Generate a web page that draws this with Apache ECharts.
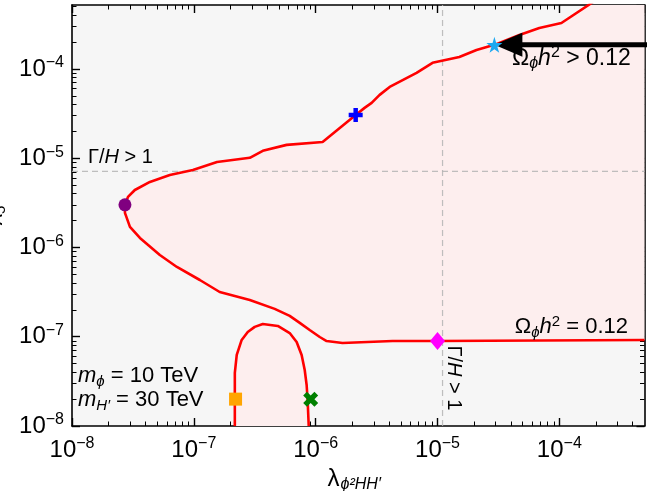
<!DOCTYPE html>
<html>
<head>
<meta charset="utf-8">
<script src="https://cdn.jsdelivr.net/npm/echarts@6/dist/echarts.min.js"></script>
<style>
  html, body { margin: 0; padding: 0; background: #fff; }
  #chart { width: 647px; height: 491px; }
</style>
</head>
<body>
<div id="chart"></div>
<script>
// Axis ranges (both axes logarithmic)
const X_MIN = 1e-8, X_MAX = 5e-4;
const Y_MIN = 1e-8, Y_MAX = 5.2e-4;

// Omega h^2 = 0.12 contour, main branch (top edge -> turning point -> flat tail)
const relicX = [
  1.90e-4, 1.04e-4, 6.85e-5, 4.70e-5, 2.93e-5, 2.09e-5, 1.51e-5, 9.10e-6, 6.73e-6, 4.05e-6,
  3.35e-6, 2.88e-6, 2.52e-6, 2.13e-6, 1.14e-6, 5.78e-7, 3.68e-7, 2.88e-7, 1.55e-7, 9.82e-8,
  6.35e-8, 4.36e-8, 3.28e-8, 2.88e-8, 2.72e-8, 2.72e-8, 2.99e-8, 3.61e-8, 5.26e-8, 7.26e-8,
  1.12e-7, 1.63e-7, 2.88e-7, 4.61e-7, 6.12e-7, 7.40e-7, 8.93e-7, 1.08e-6, 1.23e-6, 1.66e-6,
  4.28e-6, 1.00e-5, 5.00e-4
];
const relicY = [
  5.64e-4, 3.27e-4, 2.88e-4, 2.40e-4, 1.86e-4, 1.63e-4, 1.36e-4, 1.17e-4, 9.02e-5, 6.28e-5,
  5.12e-5, 4.16e-5, 3.66e-5, 3.05e-5, 1.52e-5, 1.41e-5, 1.21e-5, 1.01e-5, 9.08e-6, 7.38e-6,
  6.49e-6, 5.42e-6, 4.40e-6, 3.68e-6, 3.00e-6, 2.44e-6, 1.70e-6, 1.28e-6, 8.24e-7, 6.05e-7,
  4.32e-7, 3.17e-7, 2.58e-7, 2.05e-7, 1.71e-7, 1.43e-7, 1.19e-7, 9.93e-8, 8.95e-8, 8.51e-8,
  8.95e-8, 8.95e-8, 9.20e-8
];

// Omega h^2 = 0.12 contour, closed island at small lambda5
const islandX = [
  2.17e-7, 2.17e-7, 2.25e-7, 2.47e-7, 2.77e-7, 3.16e-7, 3.68e-7, 4.89e-7, 6.12e-7, 6.98e-7,
  7.67e-7, 8.13e-7, 8.43e-7, 8.59e-7, 8.77e-7
];
const islandY = [
  1.00e-8, 3.93e-8, 6.25e-8, 9.20e-8, 1.13e-7, 1.29e-7, 1.39e-7, 1.32e-7, 1.10e-7, 8.73e-8,
  6.25e-8, 4.24e-8, 2.88e-8, 1.95e-8, 1.00e-8
];

// Benchmark points
const benchX = [2.72e-8, 2.13e-6, 2.93e-5, 1.00e-5, 2.20e-7, 9.10e-7];
const benchY = [3.00e-6, 3.05e-5, 1.86e-4, 8.95e-8, 2.00e-8, 2.00e-8];
const benchSymbol = [
  'circle',
  'path://M34,0H66V34H100V66H66V100H34V66H0V34H34Z',
  'path://M50,0L61,35L98,35L68,57L79,91L50,70L21,91L32,57L2,35L39,35Z',
  'diamond',
  'rect',
  'path://M25,0L50,25L75,0L100,25L75,50L100,75L75,100L50,75L25,100L0,75L25,50L0,25Z'
];
const benchColor = ['#800080', '#0000ff', '#1ea8f0', '#ff00ff', '#ffa500', '#008000'];
const benchSize = [13, 14, 16, [15, 18], 13, 15];

// Gamma/H = 1 boundaries
const gammaX = 1.1e-5;
const gammaY = 7.1e-6;

const FONT = 'Liberation Sans';
const GRID = { left: 72, right: 2.5, top: 5, bottom: 65 };

// Minor tick positions (2..9 x 10^n) in exponent space
function minorExps(lo, hi) {
  const out = [];
  for (let n = -9; n <= -3; n++) {
    for (let k = 2; k <= 9; k++) {
      const v = n + Math.log10(k);
      if (v > lo && v < hi) out.push(v);
    }
  }
  return out;
}

const tickRich = {
  b: { fontFamily: FONT, fontSize: 24, color: '#000', lineHeight: 28 },
  e: { fontFamily: FONT, fontSize: 16, color: '#000', lineHeight: 16, verticalAlign: 'top' }
};
function powLabel(v) {
  const e = Math.log10(v);
  const r = Math.round(e);
  if (Math.abs(e - r) > 1e-3) return '';
  return '{b|10}{e|\u2212' + Math.abs(r) + '}';
}

function logAxis(pos, isX, withLabels) {
  return {
    type: 'log', logBase: 10, position: pos,
    min: isX ? X_MIN : Y_MIN, max: isX ? X_MAX : Y_MAX,
    axisLine: { show: true, onZero: false, lineStyle: { color: '#000', width: 1.6 } },
    axisTick: { show: true, inside: true, length: 8, lineStyle: { color: '#000', width: 1.4 } },
    axisLabel: withLabels ? {
      show: true, formatter: powLabel, rich: tickRich, margin: isX ? 10 : 8,
      showMaxLabel: false
    } : { show: false },
    splitLine: { show: false }
  };
}
function minorAxis(pos, isX) {
  const lo = Math.log10(isX ? X_MIN : Y_MIN), hi = Math.log10(isX ? X_MAX : Y_MAX);
  return {
    type: 'value', position: pos, min: lo, max: hi,
    axisLine: { show: false, onZero: false },
    axisTick: { show: true, inside: true, length: 4.5, customValues: minorExps(lo, hi),
                lineStyle: { color: '#000', width: 1 } },
    axisLabel: { show: false },
    splitLine: { show: false }
  };
}

const xAxes = [logAxis('bottom', true, true), minorAxis('bottom', true),
               logAxis('top', true, false), minorAxis('top', true)];
xAxes[0].name = '{l|\u03bb}{s|\u03d5\u00b2HH\u2032}';
xAxes[0].nameLocation = 'middle';
xAxes[0].nameGap = 31;
xAxes[0].nameTextStyle = {
  padding: [0, 8, 0, 0],
  rich: {
    l: { fontFamily: FONT, fontSize: 24, color: '#000', lineHeight: 27 },
    s: { fontFamily: FONT, fontSize: 16, fontStyle: 'italic', color: '#000', lineHeight: 14, verticalAlign: 'bottom', padding: [0, 0, 0, 1] }
  }
};
const yAxes = [logAxis('left', false, true), minorAxis('left', false),
               logAxis('right', false, false), minorAxis('right', false)];
yAxes[0].name = '{l|\u03bb}{s|5}';
yAxes[0].nameLocation = 'middle';
yAxes[0].nameGap = 62;
yAxes[0].nameTextStyle = {
  rich: {
    l: { fontFamily: FONT, fontSize: 23, color: '#000', lineHeight: 26 },
    s: { fontFamily: FONT, fontSize: 15, color: '#000', lineHeight: 15, verticalAlign: 'bottom' }
  }
};

// Filled region with Omega h^2 > 0.12 (inside the main branch and the island)
function regionPolygon(params, api) {
  const pts = [];
  for (let i = 0; i < relicX.length; i++) pts.push(api.coord([relicX[i], relicY[i]]));
  pts.push(api.coord([X_MAX, relicY[0]]));
  const island = [];
  for (let i = 0; i < islandX.length; i++) island.push(api.coord([islandX[i], islandY[i]]));
  return {
    type: 'group',
    children: [
      { type: 'polygon', shape: { points: pts }, style: { fill: '#fdeeee' } },
      { type: 'polygon', shape: { points: island }, style: { fill: '#fdeeee' } }
    ]
  };
}

// Gamma/H = 1 dashed guide lines across the whole plot
function gammaLines(params, api) {
  const a = api.coord([gammaX, Y_MIN]), b = api.coord([gammaX, Y_MAX]);
  const c = api.coord([X_MIN, gammaY]), d = api.coord([X_MAX, gammaY]);
  const st = { stroke: '#b4b4b4', lineWidth: 1.2, lineDash: [6, 4], fill: null, opacity: 0.85 };
  return {
    type: 'group',
    children: [
      { type: 'line', shape: { x1: a[0], y1: a[1], x2: b[0], y2: b[1] }, style: st },
      { type: 'line', shape: { x1: c[0], y1: c[1], x2: d[0], y2: d[1] }, style: st }
    ]
  };
}

// Arrow pointing at the star benchmark from the right edge
function arrowShape(params, api) {
  const tip = api.coord([benchX[2], benchY[2]]);
  const tail = api.coord([X_MAX, benchY[2]]);
  const headLen = 28, headHalf = 12, shaft = 5;
  return {
    type: 'group',
    children: [
      { type: 'rect', shape: { x: tip[0] + headLen - 1, y: tip[1] - shaft / 2,
                               width: tail[0] + 4 - tip[0] - headLen, height: shaft },
        style: { fill: '#000' } },
      { type: 'polygon', shape: { points: [[tip[0], tip[1]], [tip[0] + headLen, tip[1] - headHalf],
                                           [tip[0] + headLen, tip[1] + headHalf]] },
        style: { fill: '#000' } }
    ]
  };
}

const pairs = (xs, ys) => xs.map((x, i) => [x, ys[i]]);

const gray = '#c0c0c0';
function mathRich(color, size) {
  return {
    u: { fontFamily: FONT, fontSize: size, color: color, lineHeight: size + 4 },
    i: { fontFamily: FONT, fontSize: size, color: color, fontStyle: 'italic', lineHeight: size + 4 },
    sub: { fontFamily: FONT, fontSize: Math.round(size * 0.7), color: color, fontStyle: 'italic',
           lineHeight: Math.round(size * 0.7), verticalAlign: 'bottom' },
    sup: { fontFamily: FONT, fontSize: Math.round(size * 0.7), color: color,
           lineHeight: Math.round(size * 0.7), verticalAlign: 'top' }
  };
}

const chart = echarts.init(document.getElementById('chart'), null, { renderer: 'canvas' });
chart.setOption({
  animation: false,
  backgroundColor: '#ffffff',
  grid: Object.assign({ show: true, backgroundColor: '#f6f6f6', borderWidth: 0,
                        containLabel: false, outerBoundsMode: 'none' }, GRID),
  xAxis: xAxes,
  yAxis: yAxes,
  series: [
    {
      type: 'custom', xAxisIndex: 0, yAxisIndex: 0, clip: true, silent: true, z: 1,
      data: [[X_MAX, Y_MAX]], renderItem: regionPolygon
    },
    {
      type: 'custom', xAxisIndex: 0, yAxisIndex: 0, clip: true, silent: true, z: 2,
      data: [[gammaX, gammaY]], renderItem: gammaLines
    },
    {
      type: 'line', xAxisIndex: 0, yAxisIndex: 0, data: pairs(relicX, relicY),
      showSymbol: false, clip: true, z: 3, smooth: false,
      lineStyle: { color: '#ff0000', width: 2.6 }
    },
    {
      type: 'line', xAxisIndex: 0, yAxisIndex: 0, data: pairs(islandX, islandY),
      showSymbol: false, clip: true, z: 3,
      lineStyle: { color: '#ff0000', width: 2.6 }
    },
    {
      type: 'custom', xAxisIndex: 0, yAxisIndex: 0, z: 4, silent: true,
      data: [[benchX[2], benchY[2]]], renderItem: arrowShape
    },
    {
      type: 'scatter', xAxisIndex: 0, yAxisIndex: 0, z: 5,
      data: benchX.map((x, i) => ({
        value: [x, benchY[i]], symbol: benchSymbol[i], symbolSize: benchSize[i],
        itemStyle: { color: benchColor[i], opacity: 1 }
      }))
    }
  ],
  graphic: [
    { type: 'text', left: 88, top: 147, z: 10, silent: true,
      style: { text: '{u|\u0393/}{i|H}{u| > 1}', rich: mathRich(gray, 20) } },
    { type: 'text', x: 454, y: 378, rotation: -Math.PI / 2, z: 10, silent: true,
      style: { text: '{u|\u0393/}{i|H}{u| > 1}', rich: mathRich(gray, 20), align: 'center', verticalAlign: 'middle' } },
    { type: 'text', right: 19, top: 314, z: 10, silent: true,
      style: { text: '{u|\u03a9}{sub|\u03d5}{i|h}{sup|2}{u| = 0.12}', rich: mathRich('#ff0000', 22) } },
    { type: 'text', left: 512, top: 45, z: 10, silent: true,
      style: { text: '{u|\u03a9}{sub|\u03d5}{i|h}{sup|2}{u| > 0.12}', rich: mathRich('#000', 23) } },
    { type: 'text', left: 78, top: 365, z: 10, silent: true,
      style: { text: '{i|m}{sub|\u03d5}{u| = 10 TeV}', rich: mathRich('#000', 22) } },
    { type: 'text', left: 78, top: 389, z: 10, silent: true,
      style: { text: '{i|m}{sub|H\u2032}{u| = 30 TeV}', rich: mathRich('#000', 22) } }
  ]
});
</script>
</body>
</html>
